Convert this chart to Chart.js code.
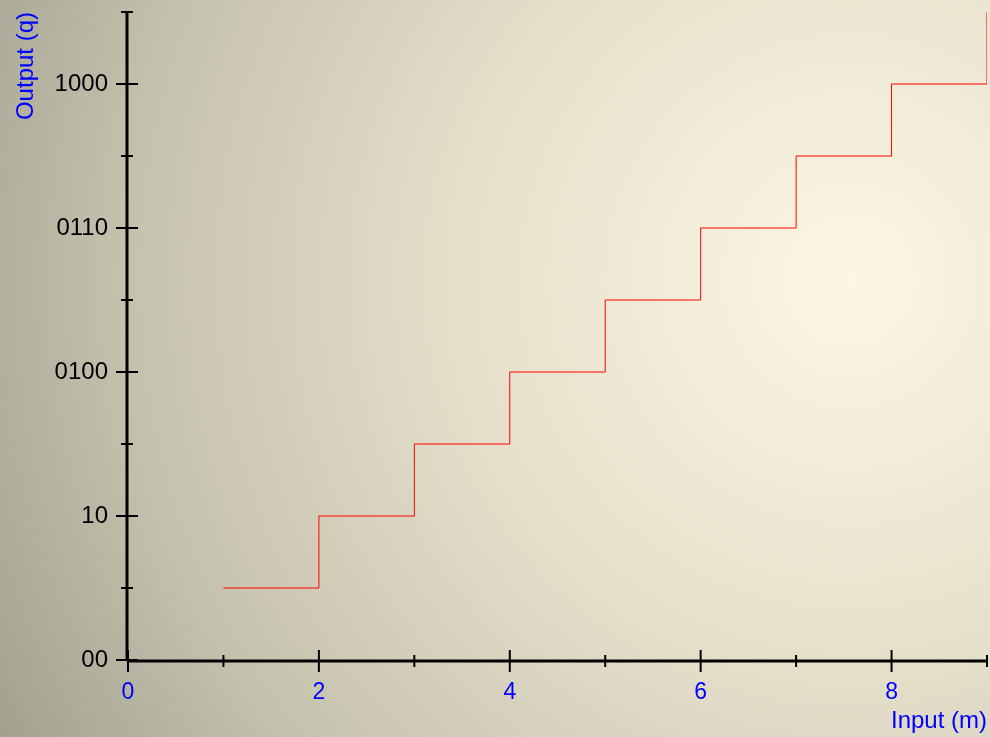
<!DOCTYPE html>
<html>
<head>
<meta charset="utf-8">
<script src="https://cdn.jsdelivr.net/npm/chart.js@4.4.1/dist/chart.umd.min.js"></script>
<style>
  html, body { margin: 0; padding: 0; }
  body {
    width: 990px; height: 737px; overflow: hidden;
    background: radial-gradient(circle farthest-corner at 850px 280px, #fcf7e3 0%, #e6e0cb 40%, #c4c1ad 75%, #a2a190 100%);
  }
  #wrap { width: 990px; height: 737px; }
</style>
</head>
<body>
<div id="wrap"><canvas id="stepChart" width="990" height="737"></canvas></div>
<script>
// data
const inputM = [1, 2, 3, 4, 5, 6, 7, 8, 9];
const outputQ = [1, 2, 3, 4, 5, 6, 7, 8, 9];

const xTickValues = [0, 2, 4, 6, 8];
const yTickValues = [0, 2, 4, 6, 8];
const yTickLabels = ["00", "10", "0100", "0110", "1000"];

const FONT = "'Liberation Sans', Arial, sans-serif";

// black axes with ticks that cross the axis line
const crossAxes = {
  id: "crossAxes",
  afterDraw(chart) {
    const ctx = chart.ctx;
    const xs = chart.scales.x;
    const ys = chart.scales.y;
    const x0 = xs.getPixelForValue(0) - 1;
    const y0 = ys.getPixelForValue(0) + 1;
    ctx.save();
    ctx.strokeStyle = "#000";
    ctx.lineWidth = 3;
    ctx.beginPath();
    ctx.moveTo(x0, ys.getPixelForValue(ys.max));
    ctx.lineTo(x0, y0);
    ctx.moveTo(x0, y0);
    ctx.lineTo(xs.getPixelForValue(xs.max), y0);
    ctx.stroke();

    ctx.lineWidth = 2;
    ctx.beginPath();
    xs.ticks.forEach(t => {
      const px = xs.getPixelForValue(t.value);
      const len = xTickValues.includes(t.value) ? 11 : 6;
      ctx.moveTo(px, y0 - len);
      ctx.lineTo(px, y0 + len);
    });
    ys.ticks.forEach(t => {
      const py = ys.getPixelForValue(t.value);
      const len = yTickValues.includes(t.value) ? 11 : 6;
      ctx.moveTo(x0 - len, py);
      ctx.lineTo(x0 + len, py);
    });
    ctx.stroke();
    ctx.restore();
  }
};

function noPad(s) {
  s.paddingLeft = 0;
  s.paddingRight = 0;
  s.paddingTop = 0;
  s.paddingBottom = 0;
}

const ctx = document.getElementById("stepChart").getContext("2d");
new Chart(ctx, {
  type: "line",
  data: {
    datasets: [{
      data: inputM.map((x, i) => ({ x, y: outputQ[i] })),
      borderColor: "#ff0000",
      borderWidth: 1,
      pointRadius: 0,
      stepped: "before",
      fill: false
    }]
  },
  options: {
    responsive: false,
    animation: false,
    layout: { padding: { top: 12, right: 3, left: 0, bottom: 0 } },
    plugins: {
      legend: { display: false },
      tooltip: { enabled: false }
    },
    scales: {
      x: {
        type: "linear",
        min: 0,
        max: 9,
        grid: { display: false },
        border: { display: false },
        ticks: {
          stepSize: 1,
          autoSkip: false,
          maxRotation: 0,
          color: "#0000ff",
          padding: 11,
          font: { family: FONT, size: 23 },
          callback: v => xTickValues.includes(v) ? String(v) : ""
        },
        title: {
          display: true,
          text: "Input (m)",
          align: "end",
          color: "#0000ff",
          padding: { top: 0, bottom: 1 },
          font: { family: FONT, size: 24 }
        },
        afterFit: s => { s.height = 77; noPad(s); }
      },
      y: {
        type: "linear",
        min: 0,
        max: 9,
        grid: { display: false },
        border: { display: false },
        ticks: {
          stepSize: 1,
          autoSkip: false,
          color: "#000000",
          padding: 12,
          font: { family: FONT, size: 24 },
          callback: v => {
            const i = yTickValues.indexOf(v);
            return i >= 0 ? yTickLabels[i] : "";
          }
        },
        title: {
          display: true,
          text: "Output (q)",
          align: "end",
          color: "#0000ff",
          padding: { top: 12, bottom: 0 },
          font: { family: FONT, size: 24 }
        },
        afterFit: s => { s.width = 128; noPad(s); }
      }
    }
  },
  plugins: [crossAxes]
});
</script>
</body>
</html>
